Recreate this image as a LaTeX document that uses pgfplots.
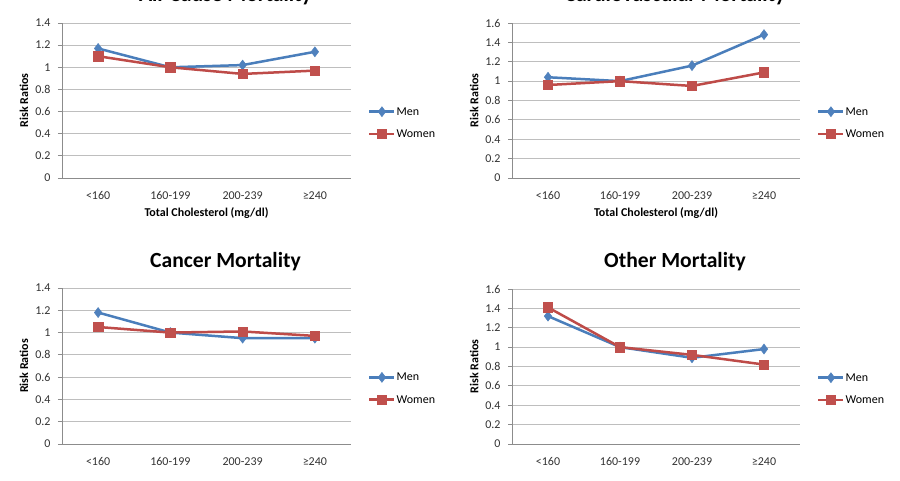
\documentclass[border=0pt]{standalone}
\usepackage{pgfplots}
\pgfplotsset{compat=1.18}
\usepackage{fontspec}
\setmainfont{Carlito}
\definecolor{menblue}{HTML}{4A7EBB}
\definecolor{menfill}{HTML}{4F81BD}
\definecolor{womred}{HTML}{BE4B48}
\definecolor{womfill}{HTML}{C0504D}
\definecolor{gridgray}{HTML}{BEBEBE}
\definecolor{axgray}{HTML}{8C8C8C}
\pgfplotsset{
  panel/.style={
    scale only axis,
    axis x line=bottom, axis y line=left,
    axis line style={-, draw=axgray, line width=0.8pt},
    xmin=-0.5, xmax=3.5, ymin=0,
    xtick={0,1,2,3},
    xticklabels={{<160},{160-199},{200-239},{≥240}},
    xtick style={draw=none},
    ytick style={draw=axgray, line width=0.8pt},
    tick align=outside, major tick length=4pt,
    ymajorgrids,
    major grid style={draw=gridgray, line width=0.8pt},
    /pgf/number format/assume math mode=true,
    ticklabel style={font=\fontsize{12}{14}\selectfont, text=black!80},
    xticklabel style={yshift=-6pt},
    yticklabel style={xshift=-4pt},
    ylabel={Risk Ratios},
    ylabel style={at={(axis description cs:-0.1315,0.5)}, anchor=center, font=\bfseries\fontsize{12}{14}\selectfont},
    title style={at={(0.5,1)}, anchor=base, yshift=15pt, xshift=19pt, font=\bfseries\fontsize{21.6}{26}\selectfont},
    legend style={draw=none, fill=none, inner sep=0pt, row sep=12.5pt,
      at={(axis description cs:1,0.357)}, anchor=west, xshift=17pt,
      font=\fontsize{12}{14}\selectfont,
      nodes={inner xsep=1pt, inner ysep=0pt, text height=8pt, text depth=1pt}},
    legend cell align=left,
    legend image code/.code={\draw[mark repeat=2,mark phase=2,#1] plot coordinates {(0pt,0pt) (12.5pt,0pt) (25pt,0pt)};},
  },
  men/.style={color=menblue, line width=2.5pt, mark=diamond*, mark size=5pt, mark options={fill=menfill, draw=menfill, line width=0.5pt}},
  women/.style={color=womred, line width=2.5pt, mark=square*, mark size=4.7pt, mark options={fill=womfill, draw=womfill, line width=0.5pt}},
}
\begin{document}
\begin{tikzpicture}
\path[use as bounding box] (0pt,0pt) rectangle (900pt,480pt);
\clip (0pt,0pt) rectangle (900pt,480pt);
\fill[white] (0pt,0pt) rectangle (900pt,480pt);

% All-cause
\begin{axis}[panel, at={(62pt,302pt)}, anchor=south west, width=289pt, height=155pt,
  ymax=1.4, ytick={0,0.2,0.4,0.6,0.8,1,1.2,1.4},
  title={All-Cause Mortality},
  xlabel={Total Cholesterol (mg/dl)},
  xlabel style={at={(axis description cs:0.5,0)}, anchor=center, yshift=-35pt, font=\bfseries\fontsize{12}{14}\selectfont}]
\addplot[men] coordinates {(0,1.17) (1,1.00) (2,1.02) (3,1.14)};
\addlegendentry{Men}
\addplot[women] coordinates {(0,1.10) (1,1.00) (2,0.94) (3,0.97)};
\addlegendentry{Women}
\end{axis}

% Cardiovascular
\begin{axis}[panel, at={(512pt,302pt)}, anchor=south west, width=288pt, height=155pt,
  ymax=1.6, ytick={0,0.2,0.4,0.6,0.8,1,1.2,1.4,1.6},
  title={Cardiovascular Mortality},
  xlabel={Total Cholesterol (mg/dl)},
  xlabel style={at={(axis description cs:0.5,0)}, anchor=center, yshift=-35pt, font=\bfseries\fontsize{12}{14}\selectfont}]
\addplot[men] coordinates {(0,1.04) (1,1.00) (2,1.16) (3,1.48)};
\addlegendentry{Men}
\addplot[women] coordinates {(0,0.96) (1,1.00) (2,0.95) (3,1.09)};
\addlegendentry{Women}
\end{axis}

% Cancer
\begin{axis}[panel, at={(62pt,36pt)}, anchor=south west, width=289pt, height=156pt,
  ymax=1.4, ytick={0,0.2,0.4,0.6,0.8,1,1.2,1.4},
  title={Cancer Mortality}]
\addplot[men] coordinates {(0,1.18) (1,1.00) (2,0.95) (3,0.95)};
\addlegendentry{Men}
\addplot[women] coordinates {(0,1.05) (1,1.00) (2,1.01) (3,0.97)};
\addlegendentry{Women}
\end{axis}

% Other
\begin{axis}[panel, at={(512pt,36pt)}, anchor=south west, width=288pt, height=155pt,
  ymax=1.6, ytick={0,0.2,0.4,0.6,0.8,1,1.2,1.4,1.6},
  title={Other Mortality}]
\addplot[men] coordinates {(0,1.32) (1,1.00) (2,0.89) (3,0.98)};
\addlegendentry{Men}
\addplot[women] coordinates {(0,1.41) (1,1.00) (2,0.92) (3,0.82)};
\addlegendentry{Women}
\end{axis}
\end{tikzpicture}
\end{document}
